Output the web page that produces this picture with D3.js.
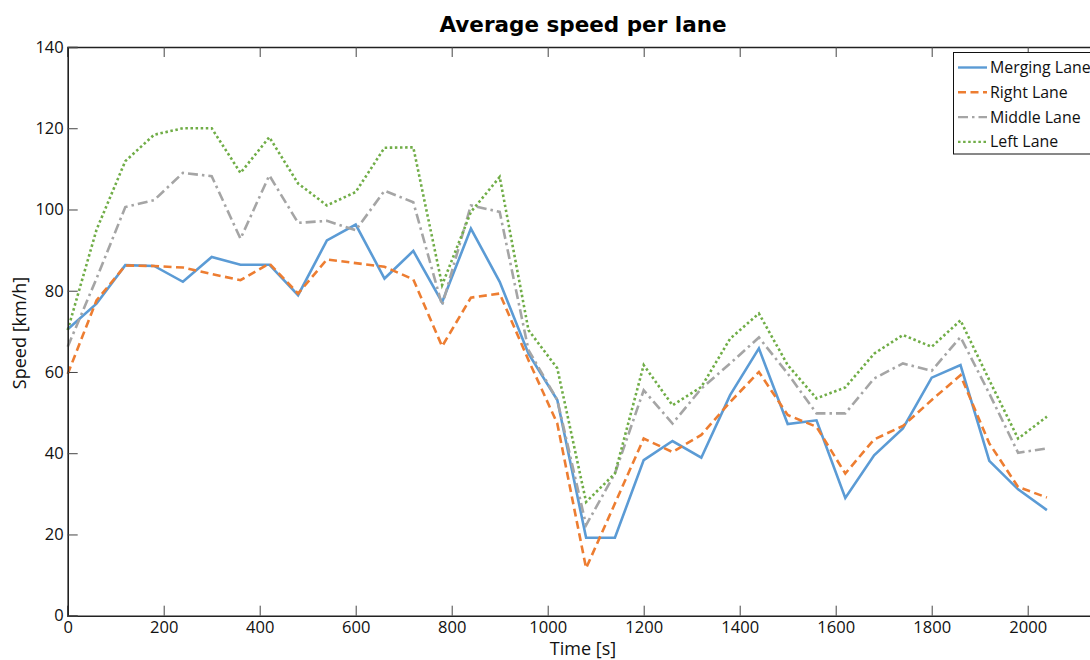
<!DOCTYPE html>
<html><head><meta charset="utf-8">
<script src="https://cdn.jsdelivr.net/npm/d3@7"></script>
<style>body{margin:0;background:#fff}svg{display:block}</style>
</head><body>
<svg id="c" width="1090" height="660"></svg>
<script>
const times = d3.range(0, 2041, 60);
const mergingLane = [70.5,76.8,86.3,86.1,82.2,88.3,86.4,86.4,78.9,92.4,96.3,83.0,89.8,77.2,95.3,82.2,64.5,53.1,19.2,19.2,38.3,43.0,38.9,54.3,65.8,47.2,48.1,29.0,39.5,46.1,58.6,61.7,38.1,31.1,26.0];
const rightLane = [59.5,77.6,86.2,86.1,85.7,84.1,82.6,86.7,79.3,87.7,86.8,85.9,82.8,66.3,78.3,79.3,62.9,47.3,11.7,27.6,43.6,40.3,44.5,52.6,60.0,49.4,46.5,35.0,43.4,46.7,53.1,59.2,42.4,31.7,29.1];
const middleLane = [66.2,83.0,100.6,102.3,109.0,108.2,92.8,108.4,96.7,97.2,94.9,104.6,101.8,76.4,101.0,99.4,65.4,53.1,22.3,35.0,55.5,47.3,55.9,62.1,68.5,59.6,49.8,49.8,58.4,62.1,60.3,68.6,54.7,40.1,41.2];
const leftLane = [70.3,95.0,111.9,118.4,120.0,120.0,109.0,117.8,106.4,101.0,104.3,115.2,115.3,81.4,99.4,108.0,70.3,60.9,28.0,35.0,61.7,51.8,56.3,68.2,74.4,61.7,53.5,56.2,64.5,69.1,66.2,72.7,58.0,43.6,49.0];
const seriesNames = ["Merging Lane","Right Lane","Middle Lane","Left Lane"];
const xTicks = d3.range(0, 2001, 200);
const yTicks = d3.range(0, 141, 20);

const seriesData = [mergingLane, rightLane, middleLane, leftLane];
const colors = ["#5B9BD5","#ED7D31","#A5A5A5","#70AD47"];
const dashes = [null, "8,4.5", "10,4,2.5,4", "2.5,2.6"];

const svg = d3.select("#c");
const L = 67.7, T = 47, B = 615.7;
const x = d3.scaleLinear().domain([0, 2150]).range([L, L + 2150*0.48]);
const y = d3.scaleLinear().domain([0, 140]).range([B, T]);
const font = "'Open Sans', sans-serif";

// lines
const line = d3.line().x((d,i)=>x(times[i])).y(d=>y(d));
seriesData.forEach((s,k)=>{
  svg.append("path").attr("d", line(s)).attr("fill","none")
    .attr("stroke", colors[k]).attr("stroke-width", 2.6)
    .attr("stroke-dasharray", dashes[k]).attr("stroke-linejoin","miter");
});

// axes
const gx = svg.append("g").attr("transform",`translate(0,${B})`)
  .call(d3.axisBottom(x).tickValues(xTicks).tickSize(-10).tickPadding(14).tickFormat(d3.format("d")));
const gxt = svg.append("g").attr("transform",`translate(0,${T})`)
  .call(d3.axisTop(x).tickValues(xTicks).tickSize(-10).tickFormat(""));
const gy = svg.append("g").attr("transform",`translate(${L},0)`)
  .call(d3.axisLeft(y).tickValues(yTicks).tickSize(-10).tickPadding(14).tickFormat(d3.format("d")));
[gx,gxt,gy].forEach(g=>{
  g.select(".domain").attr("stroke","#222").attr("stroke-width",1.6);
  g.selectAll(".tick line").attr("stroke","#444").attr("stroke-width",1);
  g.selectAll("text").attr("font-family",font).attr("font-size",16.5).attr("fill","#111");
});
gy.selectAll("text").attr("dx", 0).attr("x", -4);
gx.selectAll("text").attr("y", 6).attr("dy","0.71em");

// title & labels
svg.append("text").attr("x",583).attr("y",32).attr("text-anchor","middle")
  .attr("font-family","'DejaVu Sans', sans-serif").attr("font-weight","bold").attr("font-size",21.5)
  .attr("fill","#000").text("Average speed per lane");
svg.append("text").attr("x",583).attr("y",655).attr("text-anchor","middle")
  .attr("font-family",font).attr("font-size",18).attr("fill","#111").text("Time [s]");
svg.append("text").attr("transform","translate(25.5,333) rotate(-90)").attr("text-anchor","middle")
  .attr("font-family",font).attr("font-size",18).attr("fill","#111").text("Speed [km/h]");

// legend
const lg = svg.append("g");
lg.append("rect").attr("x",953.5).attr("y",52.5).attr("width",160).attr("height",101.5)
  .attr("fill","#fff").attr("stroke","#111").attr("stroke-width",1);
seriesNames.forEach((n,k)=>{
  const yy = 67.5 + k*24.8;
  lg.append("line").attr("x1",958).attr("x2",987).attr("y1",yy).attr("y2",yy)
    .attr("stroke",colors[k]).attr("stroke-width",2.4).attr("stroke-dasharray",dashes[k]);
  lg.append("text").attr("x",990).attr("y",yy).attr("dy","0.35em")
    .attr("font-family",font).attr("font-size",15.9).attr("fill","#111").text(n);
});
</script>
</body></html>
